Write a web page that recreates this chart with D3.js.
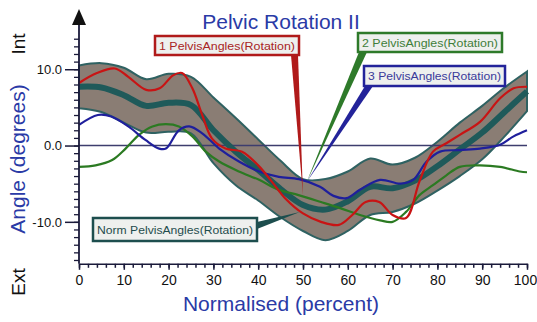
<!DOCTYPE html>
<html>
<head>
<meta charset="utf-8">
<script src="https://cdn.jsdelivr.net/npm/d3@7"></script>
<style>
  body { margin: 0; background: #fff; }
  svg { display: block; font-family: "Liberation Sans", Arial, sans-serif; }
</style>
</head>
<body>
<script>
// normative band (mean +/- sd), sampled every 5 percent
const normPct = [0, 5, 10, 15, 20, 25, 30, 35, 40, 45, 50, 55, 60, 65, 70, 75, 80, 85, 90, 95, 100];
const normMean = [7.7, 7.6, 6.6, 5.2, 5.6, 5.3, 2.0, -0.8, -3.2, -5.7, -7.8, -8.4, -7.3, -5.4, -5.6, -4.6, -2.7, -0.5, 1.7, 4.4, 7.1];
const normSd = [2.8, 3.2, 3.6, 3.5, 3.8, 3.7, 4.3, 4.4, 4.0, 3.7, 3.4, 4.0, 3.9, 3.7, 3.1, 3.0, 3.2, 3.5, 3.5, 3.2, 2.6];

// trial 1 (red)
const pct1 = [0, 4, 8, 11, 15, 18, 21, 23, 25.3, 27.5, 29.7, 32.7, 36.4, 40, 43, 46, 50, 54, 58, 61, 64, 67, 70, 73, 76, 79, 82, 85, 89.5, 94, 97, 100];
const rot1 = [8.2, 9.5, 10.1, 9.0, 7.3, 7.5, 9.2, 9.5, 7.5, 4.0, 0.9, -0.4, -0.8, -2.6, -4.7, -6.9, -8.9, -10.0, -10.4, -9.1, -7.4, -7.4, -9.1, -9.5, -4.7, -0.8, 0.3, 1.4, 3.1, 6.2, 7.5, 7.7];

// trial 2 (green)
const pct2 = [0, 3.7, 7.4, 10.4, 13.4, 16.4, 19.4, 22.3, 25.3, 28.3, 31.3, 35.7, 40.2, 44.6, 49, 54, 58.3, 62.7, 67.2, 70, 73, 76, 79, 82, 85, 89.5, 94, 98.4, 100];
const rot2 = [-2.8, -2.6, -1.9, -0.4, 1.4, 2.5, 2.8, 2.5, 1.2, -0.8, -2.1, -3.4, -4.5, -5.8, -6.5, -7.4, -8.2, -9.1, -9.8, -10.0, -8.7, -6.5, -5.2, -3.9, -2.8, -2.6, -2.8, -3.4, -3.5];

// trial 3 (blue)
const pct3 = [0, 4.2, 7.2, 11, 14.9, 17.9, 19.4, 22.3, 24.6, 27.5, 31.3, 35.7, 40.2, 44.6, 49.1, 53.8, 56.8, 59.7, 62.7, 67.2, 71.7, 74.6, 77.6, 80.6, 85, 89.5, 94, 97, 100];
const rot3 = [2.7, 4.0, 3.8, 2.5, 0.7, -0.4, -0.4, 2.0, 2.5, 1.6, -0.4, -2.1, -3.4, -4.1, -4.4, -5.4, -6.6, -6.9, -5.8, -4.5, -5.0, -4.5, -2.1, -0.8, -0.6, -0.4, 0.1, 1.2, 2.0];

const xMajor = d3.range(0, 101, 10);
const xMinor = d3.range(0, 101, 2);
const yMajor = [-10, 0, 10];
const yMinor = d3.range(-15, 15, 1);

const width = 537, height = 322;

const x = d3.scaleLinear().domain([0, 100]).range([79, 527]);
const y = d3.scaleLinear().domain([-15.5, 14.5]).range([263.8, 34.9]);

const svg = d3.select("body").append("svg")
  .attr("width", width)
  .attr("height", height);

// band
const band = d3.area()
  .x(i => x(normPct[i]))
  .y0(i => y(normMean[i] - normSd[i]))
  .y1(i => y(normMean[i] + normSd[i]))
  .curve(d3.curveCatmullRom);

svg.append("path")
  .attr("d", band(d3.range(normPct.length)))
  .attr("fill", "#8a7d74")
  .attr("stroke", "#2f6262")
  .attr("stroke-width", 2);

// zero line
svg.append("line")
  .attr("x1", x(0)).attr("x2", x(100))
  .attr("y1", y(0)).attr("y2", y(0))
  .attr("stroke", "#3d3d6e")
  .attr("stroke-width", 1.5);

// mean line
const line = (px, py) => d3.line()
  .x(i => x(px[i]))
  .y(i => y(py[i]))
  .curve(d3.curveCatmullRom);

svg.append("path")
  .attr("d", line(normPct, normMean)(d3.range(normPct.length)))
  .attr("fill", "none")
  .attr("stroke", "#1f5a5a")
  .attr("stroke-width", 6);

const trials = [
  { p: pct2, v: rot2, color: "#2b7a22" },
  { p: pct3, v: rot3, color: "#1f1f9c" },
  { p: pct1, v: rot1, color: "#c81414" },
];
trials.forEach(t => {
  svg.append("path")
    .attr("d", line(t.p, t.v)(d3.range(t.p.length)))
    .attr("fill", "none")
    .attr("stroke", t.color)
    .attr("stroke-width", 2.2);
});

// x axis
svg.append("g")
  .attr("transform", `translate(0,${y(-15.5)})`)
  .call(d3.axisBottom(x).tickValues(xMinor).tickSize(4).tickFormat("").tickSizeOuter(0))
  .call(g => g.selectAll("line,path").attr("stroke", "#1a1a3a").attr("stroke-width", 1.5));

svg.append("g")
  .attr("transform", `translate(0,${y(-15.5)})`)
  .call(d3.axisBottom(x).tickValues(xMajor).tickSize(6).tickPadding(5).tickSizeOuter(0))
  .call(g => g.select(".domain").remove())
  .call(g => g.selectAll("line").attr("stroke", "#1a1a3a").attr("stroke-width", 1.5))
  .call(g => g.selectAll("text")
    .attr("font-size", 14)
    .attr("fill", "#111")
    .attr("font-family", "Liberation Sans, Arial, sans-serif"))
  .call(g => g.selectAll("text").filter(d => d === 100).attr("dx", -2));

// y axis
svg.append("line")
  .attr("x1", x(0)).attr("x2", x(0))
  .attr("y1", y(-15.5)).attr("y2", 22)
  .attr("stroke", "#1a1a3a")
  .attr("stroke-width", 1.8);
svg.append("path")
  .attr("d", `M${x(0)},9L${x(0) - 7},25L${x(0) + 7},25Z`)
  .attr("fill", "#111");

svg.append("g")
  .attr("transform", `translate(${x(0)},0)`)
  .call(d3.axisLeft(y).tickValues(yMinor).tickSize(5).tickFormat("").tickSizeOuter(0))
  .call(g => g.select(".domain").remove())
  .call(g => g.selectAll("line").attr("stroke", "#1a1a3a").attr("stroke-width", 1.3));

svg.append("g")
  .attr("transform", `translate(${x(0)},0)`)
  .call(d3.axisLeft(y).tickValues(yMajor).tickSize(14).tickPadding(3).tickFormat(d => d.toFixed(1)))
  .call(g => g.select(".domain").remove())
  .call(g => g.selectAll("line").attr("stroke", "#1a1a3a").attr("stroke-width", 1.5))
  .call(g => g.selectAll("text")
    .attr("font-size", 13)
    .attr("fill", "#111")
    .attr("font-family", "Liberation Sans, Arial, sans-serif"));

// titles
svg.append("text")
  .attr("x", 281).attr("y", 29)
  .attr("text-anchor", "middle")
  .attr("font-size", 21)
  .attr("fill", "#2a3aa6")
  .text("Pelvic Rotation II");

svg.append("text")
  .attr("x", 281).attr("y", 311)
  .attr("text-anchor", "middle")
  .attr("font-size", 21)
  .attr("fill", "#2a3aa6")
  .text("Normalised (percent)");

const vText = (txt, cy, color, size) => svg.append("text")
  .attr("transform", `translate(25,${cy}) rotate(-90)`)
  .attr("text-anchor", "middle")
  .attr("font-size", size)
  .attr("fill", color)
  .text(txt);

vText("Angle (degrees)", 159, "#2a3aa6", 21);
vText("Int", 44, "#111", 19);
vText("Ext", 282, "#111", 19);

// callout labels
const callouts = [
  { label: "1 PelvisAngles(Rotation)", box: [155, 36, 144, 19], base: [[291, 55], [298, 55]], tip: [50, -6.5], stroke: "#b01a1a", text: "#a82424" },
  { label: "2 PelvisAngles(Rotation)", box: [358, 33, 144, 19], base: [[359, 52], [367, 52]], tip: [50.8, -4.8], stroke: "#2e7a2a", text: "#3f7e3a" },
  { label: "3 PelvisAngles(Rotation)", box: [364, 66, 141, 20], base: [[365, 86], [373, 86]], tip: [50.8, -4.8], stroke: "#23239a", text: "#3a3a9a" },
  { label: "Norm PelvisAngles(Rotation)", box: [93, 218, 164, 23], base: [[257, 222], [257, 229]], tip: [49.3, -8.7], stroke: "#1d4e4e", text: "#1f4c4c" },
];

callouts.forEach(c => {
  const [bx, by, bw, bh] = c.box;
  svg.append("path")
    .attr("d", `M${c.base[0][0]},${c.base[0][1]}L${x(c.tip[0])},${y(c.tip[1])}L${c.base[1][0]},${c.base[1][1]}Z`)
    .attr("fill", c.stroke);
  svg.append("rect")
    .attr("x", bx).attr("y", by)
    .attr("width", bw).attr("height", bh)
    .attr("fill", "#eef0ee")
    .attr("stroke", c.stroke)
    .attr("stroke-width", 2.5);
  svg.append("text")
    .attr("x", bx + 4).attr("y", by + bh / 2 + 4)
    .attr("font-size", 11)
    .attr("fill", c.text)
    .attr("textLength", bw - 8)
    .attr("lengthAdjust", "spacingAndGlyphs")
    .text(c.label);
});
</script>
</body>
</html>
